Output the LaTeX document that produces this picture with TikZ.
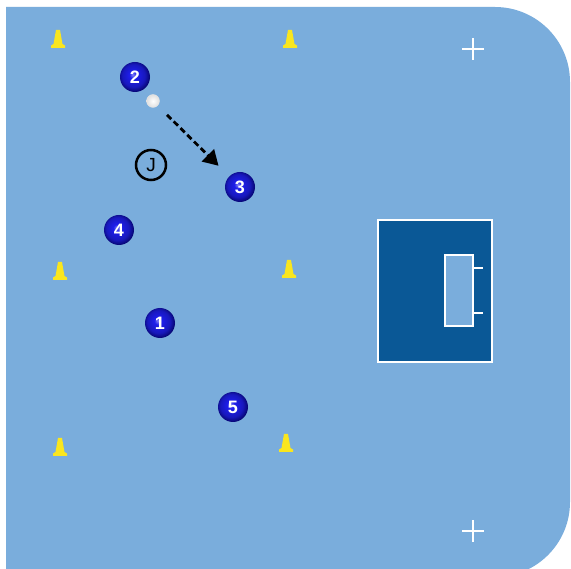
\documentclass[tikz,border=0pt]{standalone}
\usepackage{fontspec}
\setmainfont{Liberation Sans}
\usetikzlibrary{arrows.meta}
\definecolor{field}{RGB}{122,173,220}
\definecolor{goalbox}{RGB}{10,88,150}
\definecolor{cone}{RGB}{250,230,30}
\definecolor{pin}{RGB}{30,30,235}
\definecolor{pout}{RGB}{5,5,110}
\pgfdeclareradialshading{pball}{\pgfpoint{-4bp}{4bp}}{color(0bp)=(pin!55!white); color(6bp)=(pin); color(19bp)=(pin!80!black); color(27bp)=(pout); color(50bp)=(pout)}
\begin{document}
\begin{tikzpicture}[x=1pt,y=-1pt,
  player/.style={circle,minimum size=30pt,inner sep=0pt,shading=pball,
    text=white,font=\bfseries\fontsize{18}{18}\selectfont},
  ballnode/.style={circle,minimum size=13pt,inner sep=0pt,inner color=white,outer color=gray!25,draw=gray!20,line width=0.3pt},
  jnode/.style={circle,minimum size=30pt,inner sep=0pt,draw=black,line width=2.5pt,
    font=\fontsize{19}{19}\selectfont},
  pass/.style={line width=2.8pt,dash pattern=on 6pt off 3.5pt,-{Triangle[length=15pt,width=17pt]},shorten <=13pt,shorten >=15pt},
  whiteline/.style={draw=white,line width=1.2pt},
  conestyle/.style={fill=cone,draw=none}
]
\useasboundingbox (0,0) rectangle (571,569);
\fill[white] (0,0) rectangle (571,569);
% field
\fill[field] (6,7) -- (495,7) arc[start angle=-90,end angle=0,radius=75] -- (570,502)
  arc[start angle=0,end angle=90,radius=75] -- (6,577) -- cycle;
% crosses
\foreach \y in {49,531}{
  \draw[white,line width=1.4pt] (462,\y) -- (484,\y) (473,\y-11) -- (473,\y+11);
}
% goal area
\draw[whiteline,fill=goalbox] (378,220) rectangle (492,362);
\draw[whiteline,fill=field] (445,255) rectangle (473,326);
\draw[whiteline] (473,268) -- (483,268) (473,313) -- (483,313);
% cones
\foreach \x/\y in {58/40,290/40,60/272,289/270,60/448,286/444}{
  \fill[conestyle] (\x-2,\y-10) -- (\x+2,\y-10) -- (\x+4.5,\y+4) -- (\x+7,\y+5.5) -- (\x+7,\y+8) -- (\x-7,\y+8) -- (\x-7,\y+5.5) -- (\x-4.5,\y+4) -- cycle;
}
% players
\node[player] (p2) at (135,77) {2};
\node[player] (p3) at (240,187) {3};
\node[player] (p4) at (119,230) {4};
\node[player] (p1) at (160,323) {1};
\node[player] (p5) at (233,407) {5};
\node[ballnode] (ball) at (153,101) {};
\node[jnode] (j) at (151,165) {J};
\draw[pass] (ball) -- (p3);
\end{tikzpicture}
\end{document}
